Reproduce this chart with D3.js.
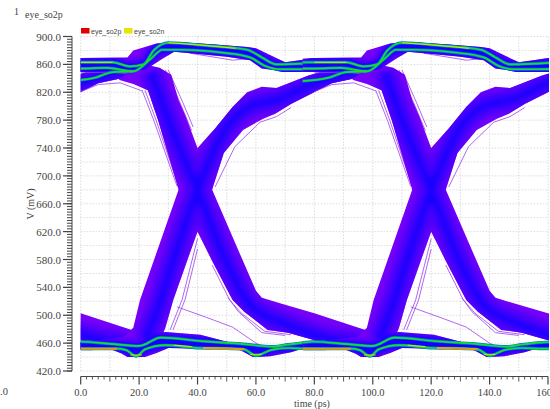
<!DOCTYPE html>
<html><head><meta charset="utf-8">
<script src="https://cdn.jsdelivr.net/npm/d3@7/dist/d3.min.js"></script>
<style>html,body{margin:0;background:#fff}svg{display:block}text{font-family:"Liberation Serif",serif;fill:#444}</style>
</head><body><svg id="c" width="550" height="409"></svg>
<script>
// One unit interval is repeated across the 160 ps window: each array is [time ps, mV]
const periods = [-80, 0, 80];
const xTickLabels = [0,20,40,60,80,100,120,140,160];
const yTickLabels = [420,460,500,540,580,620,660,700,740,780,820,860,900];
const legendNames = ["eye_so2p","eye_so2n"];

const topRail = [[-4,868],[0,869],[16,870],[18,880],[26,890],[32,892],[45,889],[57,885],[60,883],[65,873],[70,863],[75,866],[80,869],[84,869],
  [84,849],[80,849],[69,849],[66,852],[62,854],[58,866],[50,871],[42,874],[32,878],[28,868],[22,852],[10,850],[0,849],[-4,849]];
const lowRail = [[-4,461],[0,462],[7,465],[16,470],[29,476],[41,472],[52,460],[66,455],[78,460],[84,463],
  [84,451],[80,452],[75,451],[72,447],[65,441],[59,440],[54.6,450],[44,452],[30,453],[26,446],[22,440],[16,440],[14,445],[11,450],[0,450],[-4,451]];
const rising = [[14,466],[18,482],[20.3,522],[33.5,680],[40,740],[46,768],[52,799],[57,820],[62,828],[67,826],[78,844],[88,856],[96,862],
  [100,850],[96,842],[86,833],[72,803],[66.6,789],[62.5,782],[55.6,766],[49,733],[45,680],[40,620],[31.7,522],[29,482],[27,462],[16,455]];
const falling = [[13,838],[18,832],[23,823],[26.5,780],[33.5,680],[40,620],[45,578],[52,522],[56,505],[64,479],[71,475],[81,463],[96,450],
  [100,470],[98,478],[80,503],[70,515],[62,525],[60,535],[45,680],[40,740],[36,785],[33.5,809],[31,845],[27,855],[20,862]];

const coreFall = [[24,850],[30,780],[40,680],[50,575],[58,515],[70,488],[85,466],[98,458]];
const coreRise = [[22,465],[26,505],[31,570],[40,680],[50,770],[58,800],[68,810],[80,833],[92,848],[98,856]];
const railLines = [
  [[-4,863],[0,863],[11,863],[17,857],[21.5,860],[25,880],[30,891],[43,887],[57,881],[62,870],[67,860],[75,861],[84,863]],
  [[-4,854],[0,854],[9,855],[18,850],[24,868],[28,881],[34,881],[48,877],[58,870],[63,858],[68,853],[76,853],[84,854]],
  [[-4,452],[0,452],[12.4,452],[15.6,450],[19,441],[22,451],[29,457],[40.8,453],[52,452],[56,451],[60,442],[65,450],[71,453],[77,452],[84,452]],
  [[-4,461],[0,462],[10,459],[20,456],[27.5,468],[41,463],[55,459],[66,455],[71,458],[78,461],[84,462]],
  [[-4,836],[5,841],[11,849],[18,850]]
];
const hotA = [[-4,452],[0,452],[12.4,452]];
const hotB = [[42,453],[52,452],[56,451]];
const hotC = [[17,443],[21,443]];
const hotD = [[30,891],[43,887],[53,883]];
const hotE = [[0,863],[11,863]];
const hotF = [[32,457],[38,455]];
const hotG = [[58,444],[62,444]];
const outliers = [
  [[21,823],[25,780],[33,685]],
  [[22,823],[25.8,780],[33.5,685]],
  [[29,852],[34,805],[38,765]],
  [[30,852],[35,805],[38.5,770]],
  [[30.6,479],[34.7,522],[40,610]],
  [[31.6,479],[35.7,522],[40,595]],
  [[33,512],[43,497],[52,483],[60,460],[63,454]],
  [[37.5,876],[52,866],[57,868]],
  [[46,684],[52.8,742],[61.4,777],[67,785],[72,798]],
  [[45,572],[51,522],[55,503],[63,477],[72,472]],
  [[50.5,525],[54,505],[62,475],[70,471]],
  [[0,848],[10,849],[17,846]],
  [[0,821],[6,831],[13.5,833.5],[21,822]]
];

const x=d3.scaleLinear().domain([0,160]).range([80.7,548]);
const y=d3.scaleLinear().domain([420,900]).range([371,36.5]);
const svg=d3.select("#c");
const bandLine=d3.line().x(d=>x(d[0])).y(d=>y(d[1]));
const smooth=d3.line().x(d=>x(d[0])).y(d=>y(d[1])).curve(d3.curveMonotoneX);
const closed=d=>bandLine(d)+"Z";

const defs=svg.append("defs");
defs.append("clipPath").attr("id","plot").append("rect")
  .attr("x",x(0)).attr("y",y(900)-1).attr("width",x(160)-x(0)+1).attr("height",y(420)-y(900)+2);
const bandClip=defs.append("clipPath").attr("id","bands");
[falling,rising,topRail,lowRail].forEach(p=>bandClip.append("path").attr("d",closed(p)));
const railClip=defs.append("clipPath").attr("id","rails");
[topRail,lowRail].forEach(p=>railClip.append("path").attr("d",closed(p)));
const blur=(id,s)=>defs.append("filter").attr("id",id).attr("filterUnits","userSpaceOnUse")
  .attr("x",-300).attr("y",-50).attr("width",1200).attr("height",500)
  .append("feGaussianBlur").attr("stdDeviation",s);
blur("soft",0.55); blur("soft2",3);

const grid=svg.append("g").attr("stroke","#dcdcdc").attr("stroke-width",1).attr("stroke-dasharray","1.5 1.5");
grid.selectAll(".gx").data(d3.range(0,161,10)).join("line")
  .attr("x1",d=>x(d)).attr("x2",d=>x(d)).attr("y1",y(900)).attr("y2",y(420));
grid.selectAll(".gy").data(d3.range(420,901,20)).join("line")
  .attr("x1",x(0)).attr("x2",x(160)).attr("y1",d=>y(d)).attr("y2",d=>y(d));

const eye=svg.append("g").attr("clip-path","url(#plot)");
const stroke=(g,d,col,w)=>g.append("path").attr("d",d).attr("fill","none").attr("stroke",col).attr("stroke-width",w);
periods.forEach(off=>{
  const g=eye.append("g").attr("transform",`translate(${x(off)-x(0)},0)`);
  outliers.forEach(o=>stroke(g,bandLine(o),"#9a40ee",0.8));
  [falling,rising,topRail,lowRail].forEach(p=>g.append("path").attr("d",closed(p)).attr("fill","#7800f8"));
  const innerClip=g.append("g").attr("clip-path","url(#bands)");
  const inner=innerClip.append("g").attr("filter","url(#soft2)");
  [coreFall,coreRise].forEach(c=>stroke(inner,smooth(c),"#4c00fa",24));
  [coreFall,coreRise].forEach(c=>stroke(inner,smooth(c),"#1400ff",9));
  const railWrap=g.append("g").attr("clip-path","url(#rails)");
  const glow=railWrap.append("g").attr("filter","url(#soft2)");
  railLines.forEach(r=>stroke(glow,smooth(r),"#1800ff",9));
  const rails=g.append("g").attr("filter","url(#soft)");
  railLines.forEach(r=>stroke(rails,smooth(r),"#0070e8",3));
  railLines.forEach(r=>stroke(rails,smooth(r),"#18e020",1.7));
  [hotE,hotD,hotF,hotC,hotG].forEach(h=>stroke(rails,smooth(h),"#d8e800",1));
  [hotA,hotB].forEach(h=>stroke(rails,smooth(h),"#f0c000",1.8));
  [hotA,hotB].forEach(h=>stroke(rails,smooth(h),"#f06a10",0.7));
});

const ax=svg.append("g").attr("stroke","#444").attr("fill","none");
ax.append("line").attr("x1",72).attr("x2",72).attr("y1",y(900)).attr("y2",y(420));
ax.selectAll(".ym").data(d3.range(420,901,4)).join("line")
  .attr("x1",67).attr("x2",72).attr("y1",d=>y(d)).attr("y2",d=>y(d));
ax.selectAll(".yM").data(yTickLabels).join("line")
  .attr("x1",63).attr("x2",72).attr("y1",d=>y(d)).attr("y2",d=>y(d)).attr("stroke-width",1.2);
ax.append("line").attr("x1",x(0)).attr("x2",x(160)).attr("y1",376.5).attr("y2",376.5);
ax.selectAll(".xm").data(d3.range(0,161,2)).join("line")
  .attr("x1",d=>x(d)).attr("x2",d=>x(d)).attr("y1",376.5)
  .attr("y2",d=>d%20===0?384.5:(d%10===0?381.5:379.5)).attr("stroke-width",d=>d%20===0?1.2:0.9);

svg.selectAll(".yl").data(yTickLabels).join("text").attr("x",61).attr("y",d=>y(d)+4)
  .attr("text-anchor","end").attr("font-size",11).text(d=>d.toFixed(1));
svg.selectAll(".xl").data(xTickLabels).join("text").attr("x",d=>x(d)).attr("y",396)
  .attr("text-anchor","middle").attr("font-size",10.5).text(d=>d.toFixed(1));
svg.append("text").attr("x",0).attr("y",395).attr("font-size",10.5).text(".0");
svg.append("text").attr("x",312).attr("y",407).attr("text-anchor","middle").attr("font-size",10).text("time (ps)");
svg.append("text").attr("transform","translate(34,204) rotate(-90)").attr("text-anchor","middle").attr("font-size",10).text("V (mV)");
svg.append("text").attr("x",14).attr("y",15).attr("font-size",10).text("1");
svg.append("text").attr("x",25).attr("y",18).attr("font-size",10).text("eye_so2p");

const legendColors=["#e00000","#e6e600"], legendX=[81,124];
legendNames.forEach((n,i)=>{
  svg.append("rect").attr("x",legendX[i]).attr("y",28).attr("width",8.5).attr("height",5.5).attr("fill",legendColors[i]);
  svg.append("text").attr("x",legendX[i]+10).attr("y",33.5).attr("font-size",7)
    .style("font-family","'Liberation Sans',sans-serif").text(n);
});
</script></body></html>
